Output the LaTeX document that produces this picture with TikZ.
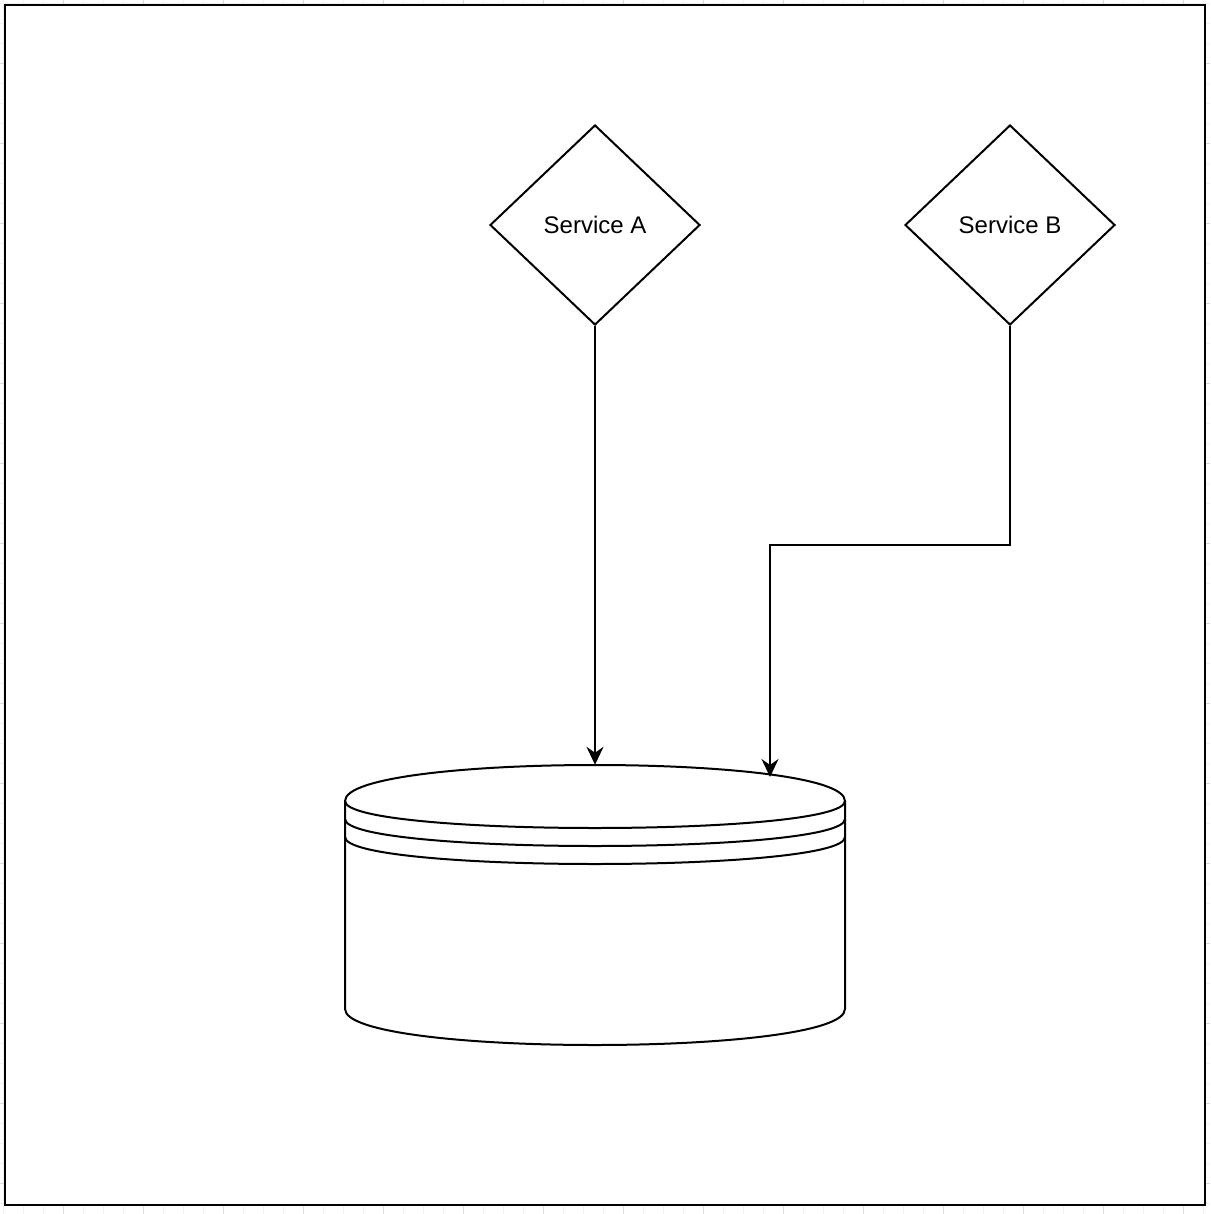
\documentclass[tikz,border=0pt]{standalone}
\usepackage{fontspec}
\setmainfont{Liberation Sans}
\usetikzlibrary{shapes.geometric,arrows.meta}
\begin{document}
\begin{tikzpicture}[x=1pt,y=-1pt,
  svc/.style={diamond,draw,line width=2pt,inner sep=0pt,minimum width=210pt,minimum height=200pt,aspect=1.05,font=\fontsize{24}{28}\selectfont},
  conn/.style={line width=2pt,-{Stealth[length=18pt,width=17pt,inset=6pt]}},
  dbline/.style={line width=2pt}]
\useasboundingbox (0,0) rectangle (1210,1214);
% faint background grid
\foreach \i in {0,...,60} {
  \draw[gray!12,line width=1pt] (3.3+20*\i,0) -- (3.3+20*\i,1214);
  \draw[gray!12,line width=1pt] (0,3.3+20*\i) -- (1210,3.3+20*\i);
}
\foreach \i in {0,...,15} {
  \draw[gray!28,line width=1pt] (63.3+80*\i,0) -- (63.3+80*\i,1214);
  \draw[gray!28,line width=1pt] (0,63.3+80*\i) -- (1210,63.3+80*\i);
}
% frame
\draw[line width=2.5pt,fill=white] (5,5) rectangle (1205,1205);
% services
\node[svc] (sa) at (595,225) {\raisebox{-1pt}{Service A}};
\node[svc] (sb) at (1010,225) {\raisebox{-1pt}{Service B}};
% datastore
\node[minimum width=500pt,minimum height=280pt,inner sep=0pt] (db) at (595,905) {};
\draw[dbline] (345,801) .. controls (345,753) and (845,753) .. (845,801) -- (845,1009) .. controls (845,1057) and (345,1057) .. (345,1009) -- cycle;
\draw[dbline] (345,801) .. controls (345,837) and (845,837) .. (845,801);
\draw[dbline] (345,819) .. controls (345,855) and (845,855) .. (845,819);
\draw[dbline] (345,837) .. controls (345,873) and (845,873) .. (845,837);
% connectors
\coordinate (bend) at (770,545);
\coordinate (endB) at (770,777);
\draw[conn] (sa.south) -- (db.north);
\draw[conn] (sb.south) |- (bend) -- (endB);
\end{tikzpicture}
\end{document}
